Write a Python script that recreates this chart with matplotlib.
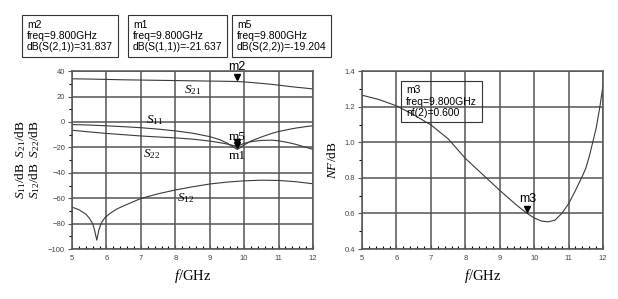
import matplotlib
matplotlib.use('Agg')
import matplotlib.pyplot as plt
import matplotlib.transforms as mtransforms

plt.rcParams['font.family'] = ['Liberation Sans', 'DejaVu Sans']
plt.rcParams['mathtext.fontset'] = 'custom'
plt.rcParams['mathtext.rm'] = 'Liberation Serif'
plt.rcParams['mathtext.it'] = 'Liberation Serif:italic'

# --- S-parameters (dB) ---
freq_s = [5.0, 5.5, 6.0, 6.5, 7.0, 7.5, 8.0, 8.5, 9.0, 9.3, 9.5, 9.7, 9.8, 9.9, 10.0,
          10.2, 10.5, 10.8, 11.0, 11.3, 11.5, 11.8, 12.0]
s21 = [34.0, 33.8, 33.5, 33.2, 33.0, 32.8, 32.6, 32.4, 32.2, 32.1, 32.0, 31.9, 31.8,
       31.7, 31.5, 31.1, 30.4, 29.6, 29.0, 28.0, 27.4, 26.6, 26.0]
s11 = [-2.0, -2.4, -3.0, -3.7, -4.5, -5.6, -7.0, -8.8, -11.5, -14.0, -16.5, -20.0,
       -21.6, -20.0, -18.0, -15.0, -11.8, -9.0, -7.5, -5.8, -4.8, -3.6, -3.0]
s22 = [-6.5, -7.8, -9.0, -10.0, -11.0, -11.8, -12.5, -13.5, -15.0, -16.3, -17.3, -18.6,
       -19.2, -18.0, -16.8, -15.5, -14.5, -14.3, -14.8, -16.3, -17.6, -20.0, -21.5]

freq_s12 = [5.0, 5.2, 5.4, 5.5, 5.6, 5.65, 5.72, 5.78, 5.85, 5.95, 6.1, 6.3, 6.5, 7.0,
            7.5, 8.0, 8.5, 9.0, 9.5, 10.0, 10.5, 11.0, 11.5, 12.0]
s12 = [-67.0, -69.0, -72.5, -75.5, -80.0, -84.5, -93.0, -85.0, -79.5, -75.5, -72.0,
       -68.5, -66.0, -60.2, -56.5, -53.5, -51.0, -48.8, -47.3, -46.3, -45.8, -46.0,
       -47.0, -48.6]

# --- noise figure (dB) ---
freq_nf = [5.0, 5.5, 6.0, 6.5, 7.0, 7.5, 8.0, 8.5, 9.0, 9.5, 9.8, 10.0, 10.2, 10.4,
           10.6, 10.8, 11.0, 11.2, 11.4, 11.5, 11.6, 11.7, 11.8, 11.9, 12.0]
nf = [1.265, 1.24, 1.205, 1.155, 1.098, 1.02, 0.91, 0.82, 0.73, 0.645, 0.60, 0.575,
      0.558, 0.553, 0.562, 0.600, 0.655, 0.73, 0.81, 0.855, 0.92, 1.00, 1.08, 1.19, 1.32]

m_freq = 9.8
m2_val, m1_val, m5_val, m3_val = 31.837, -21.637, -19.204, 0.600

box_texts = ["m2\nfreq=9.800GHz\ndB(S(2,1))=31.837",
             "m1\nfreq=9.800GHz\ndB(S(1,1))=-21.637",
             "m5\nfreq=9.800GHz\ndB(S(2,2))=-19.204"]
nf_box = "m3\nfreq=9.800GHz\nnf(2)=0.600"

line_c = '#3a3a3a'
grid_c = '#555555'

fig = plt.figure(figsize=(6.18, 2.99), dpi=100)
ax1 = fig.add_axes([0.1165, 0.167, 0.39, 0.595])
ax2 = fig.add_axes([0.5858, 0.167, 0.39, 0.595])


def style(ax):
    for sp in ax.spines.values():
        sp.set_color(grid_c)
        sp.set_linewidth(1.1)
    ax.grid(True, which='major', color=grid_c, linewidth=1.1)
    ax.set_axisbelow(True)
    ax.tick_params(axis='both', labelsize=5.5, labelcolor='#444444', color=grid_c,
                   length=3, width=0.8, pad=2)
    ax.tick_params(axis='x', which='both', direction='in', pad=4)
    ax.tick_params(axis='y', which='both', direction='out')
    ax.tick_params(which='minor', length=2.5, width=0.8)
    ax.set_xlim(5, 12)
    ax.set_xticks(range(5, 13))
    ax.set_xticks([5 + 0.2 * i for i in range(36)], minor=True)
    ax.set_xlabel(r'$f$/GHz', fontsize=10.5, labelpad=4, family='Liberation Serif')


def marker(ax, x, y):
    tr = mtransforms.offset_copy(ax.transData, fig=fig, x=0, y=3, units='points')
    ax.plot([x], [y], marker='v', color='black', markersize=4.5, transform=tr,
            clip_on=False, zorder=5)


# left: S-parameters
style(ax1)
ax1.plot(freq_s, s21, color=line_c, lw=0.8)
ax1.plot(freq_s, s11, color=line_c, lw=0.8)
ax1.plot(freq_s, s22, color=line_c, lw=0.8)
ax1.plot(freq_s12, s12, color=line_c, lw=0.8)
ax1.set_ylim(-100, 40)
ax1.set_yticks(range(-100, 41, 20))
ax1.set_yticks(range(-100, 41, 10), minor=True)
ax1.set_ylabel('$S_{11}$/dB  $S_{21}$/dB\n$S_{12}$/dB  $S_{22}$/dB', fontsize=9.5,
               linespacing=0.95, labelpad=4, family='Liberation Serif')

ax1.text(8.5, 25, '$S_{21}$', fontsize=9.5, ha='center', va='center')
ax1.text(7.4, 1.5, '$S_{11}$', fontsize=9.5, ha='center', va='center')
ax1.text(7.3, -25, '$S_{22}$', fontsize=9.5, ha='center', va='center')
ax1.text(8.3, -60, '$S_{12}$', fontsize=9.5, ha='center', va='center')

marker(ax1, m_freq, m2_val)
marker(ax1, m_freq, m5_val)
marker(ax1, m_freq, m1_val)
ax1.text(m_freq, 43.5, 'm2', fontsize=9, ha='center', va='center')
ax1.text(m_freq, -12, 'm5', fontsize=9.5, ha='center', va='center', family='Liberation Serif')
ax1.text(m_freq, -26.5, 'm1', fontsize=9.5, ha='center', va='center', family='Liberation Serif')

# right: noise figure
style(ax2)
ax2.plot(freq_nf, nf, color=line_c, lw=0.8)
ax2.set_ylim(0.4, 1.4)
ax2.set_yticks([0.4, 0.6, 0.8, 1.0, 1.2, 1.4])
ax2.set_yticklabels(['0.4', '0.6', '0.8', '1.0', '1.2', '1.4'])
ax2.set_yticks([0.4 + 0.1 * i for i in range(11)], minor=True)
ax2.set_ylabel(r'$NF$/dB', fontsize=9.5, labelpad=4, family='Liberation Serif')
marker(ax2, m_freq, m3_val)
ax2.text(m_freq, 0.68, 'm3', fontsize=9, ha='center', va='center')

# transparent marker box: grid and curve show through it
ax2.text(6.28, 1.32, nf_box, fontsize=7.5, va='top', ha='left', linespacing=1.15,
         bbox=dict(boxstyle='square,pad=0.45', facecolor='none', edgecolor='#333333',
                   linewidth=0.8))

# marker boxes above the left plot
for x0, t in zip([27, 133, 237], box_texts):
    fig.text(x0 / 618, 1 - 20 / 299, t, fontsize=7.5, va='top', ha='left',
             linespacing=1.15,
             bbox=dict(boxstyle='square,pad=0.45', facecolor='white',
                       edgecolor='#333333', linewidth=0.8))

fig.savefig('out.png', dpi=100)
